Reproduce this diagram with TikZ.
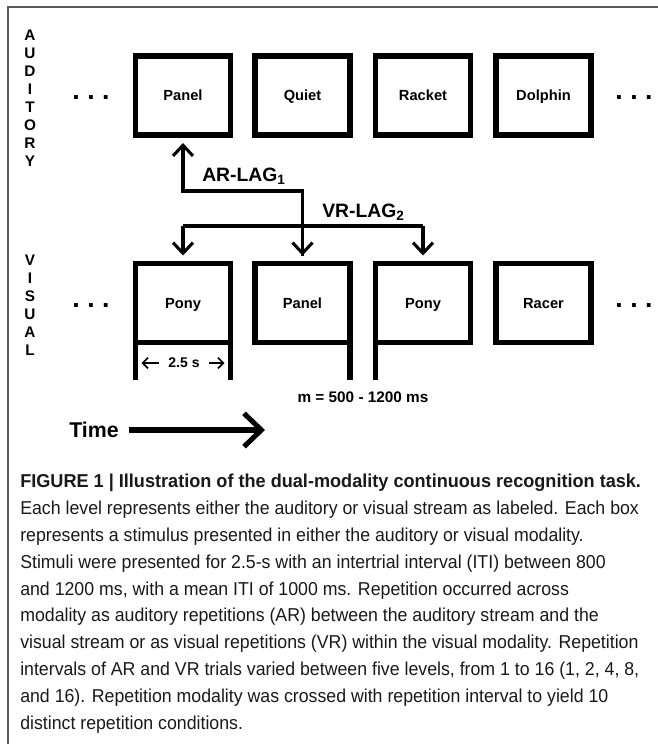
\documentclass[tikz,border=0pt]{standalone}
\usepackage{fontspec}
\setmainfont{Liberation Sans}
\newfontfamily\capfont[FakeStretch=0.95, BoldFeatures={FakeStretch=0.97}]{Liberation Sans}
\usetikzlibrary{arrows.meta}

\begin{document}
\begin{tikzpicture}[x=0.75pt, y=-0.75pt,
  every node/.style={font=\bfseries\fontsize{11}{13}\selectfont},
  stim/.style={draw, line width=4.1pt, minimum width=71.25pt, minimum height=59.25pt, inner sep=0pt, outer sep=0pt, text height=8pt, text depth=0pt},
  tail/.style={line width=4.1pt},
  lag/.style={line width=2.3pt, shorten >=6pt, -{Straight Barb[length=8pt, width=15pt]}},
  streamname/.style={align=center, font=\bfseries\fontsize{11.5}{13.5}\selectfont},
  dots/.style={anchor=base, font=\bfseries\fontsize{20}{20}\selectfont},
  laglabel/.style={anchor=west, inner sep=0pt, font=\bfseries\fontsize{14.5}{16}\selectfont}]
  \useasboundingbox (0,0) rectangle (658,744);
  \draw[gray!70!black, line width=1pt] (8,744) -- (8,7) -- (658,7);
  % auditory stream
  \node[streamname] (aud) at (30,98) {A\\U\\D\\I\\T\\O\\R\\Y};
  \node[dots] (adotsl) at (91,99.5) {.\ .\ .};
  \node[stim] (a1) at (183,95.5) {Panel};
  \node[stim] (a2) at (302.5,95.5) {Quiet};
  \node[stim] (a3) at (423,95.5) {Racket};
  \node[stim] (a4) at (543.5,95.5) {Dolphin};
  \node[dots] (adotsr) at (634,99.5) {.\ .\ .};
  % visual stream
  \node[streamname] (vis) at (30,305) {V\\I\\S\\U\\A\\L};
  \node[dots] (vdotsl) at (91,307.5) {.\ .\ .};
  \node[stim] (v1) at (183,303) {Pony};
  \node[stim] (v2) at (302.5,303) {Panel};
  \node[stim] (v3) at (423,303) {Pony};
  \node[stim] (v4) at (543.5,303) {Racer};
  \node[dots] (vdotsr) at (634,307.5) {.\ .\ .};
  % repetition lags
  \coordinate (arlevel) at (0,191);
  \coordinate (vrlevel) at (0,226);
  \draw[lag, shorten <=6pt] (v2.north) -- (v2.north |- arlevel) -| (a1.south);
  \draw[line width=2.3pt] (v1.north |- vrlevel) -- (v3.north |- vrlevel);
  \draw[lag] (v1.north |- vrlevel) -- (v1.north);
  \draw[lag] (v2.north |- vrlevel) -- (v2.north);
  \draw[lag] (v3.north |- vrlevel) -- (v3.north);
  \node[laglabel] (arlag) at (202,176) {AR-LAG\textsubscript{1}};
  \node[laglabel] (vrlag) at (322,212) {VR-LAG\textsubscript{2}};
  % timing
  \coordinate (tailend) at (0,380);
  \draw[tail] (v1.south west) -- (v1.south west |- tailend);
  \draw[tail] (v1.south east) -- (v1.south east |- tailend);
  \draw[tail] (v2.south east) -- (v2.south east |- tailend);
  \draw[tail] (v3.south west) -- (v3.south west |- tailend);
  \node[inner xsep=7pt, font=\bfseries\fontsize{10.5}{12}\selectfont] (dur) at (184,363) {2.5 s};
  \draw[line width=1.3pt, shorten >=4.5pt, -{Straight Barb[length=4pt, width=8pt]}] (dur.west) -- (v1.south west |- dur);
  \draw[line width=1.3pt, shorten >=4.5pt, -{Straight Barb[length=4pt, width=8pt]}] (dur.east) -- (v1.south east |- dur);
  \node[font=\bfseries\fontsize{11.5}{13}\selectfont] (iti) at (363,397) {m = 500 - 1200 ms};
  \node[font=\bfseries\fontsize{16}{18}\selectfont] (time) at (94,430) {Time};
  \coordinate (timeend) at (265,430);
  \draw[line width=3.8pt, shorten <=4pt, -{Straight Barb[length=13pt, width=25pt]}] (time.east) -- (timeend);
  % caption
  \node[anchor=north west, inner sep=0pt, align=left, font=\capfont\fontsize{14}{20.1}\selectfont, text=black!90] (caption) at (20,474) {%
    \textbf{FIGURE 1 | Illustration of the dual-modality continuous recognition task.}\\
    Each level represents either the auditory or visual stream as labeled. Each box\\
    represents a stimulus presented in either the auditory or visual modality.\\
    Stimuli were presented for 2.5-s with an intertrial interval (ITI) between 800\\
    and 1200 ms, with a mean ITI of 1000 ms. Repetition occurred across\\
    modality as auditory repetitions (AR) between the auditory stream and the\\
    visual stream or as visual repetitions (VR) within the visual modality. Repetition\\
    intervals of AR and VR trials varied between five levels, from 1 to 16 (1, 2, 4, 8,\\
    and 16). Repetition modality was crossed with repetition interval to yield 10\\
    distinct repetition conditions.};
\end{tikzpicture}
\end{document}
